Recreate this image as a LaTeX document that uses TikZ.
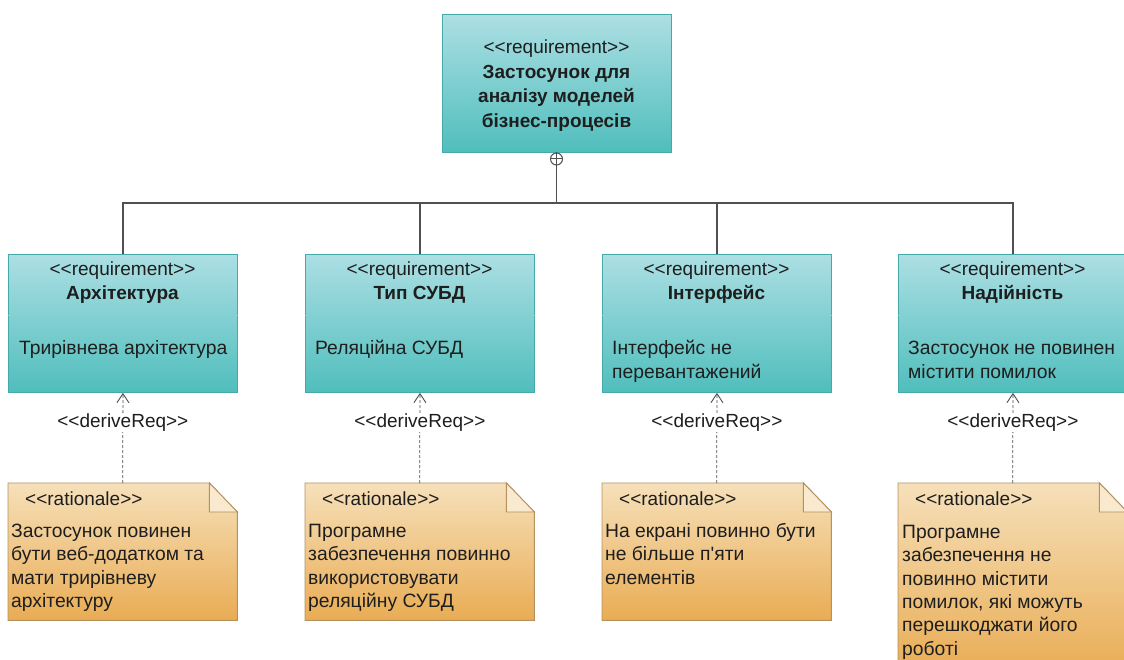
\documentclass[tikz,border=0pt]{standalone}
\usepackage{fontspec}
\setmainfont{Liberation Sans}[Ligatures=TeXOff]
\usetikzlibrary{arrows.meta}
\definecolor{reqtop}{RGB}{172,223,228}
\definecolor{reqbot}{RGB}{80,190,188}
\definecolor{reqline}{RGB}{70,170,172}
\definecolor{notetop}{RGB}{246,224,186}
\definecolor{notebot}{RGB}{233,172,84}
\definecolor{noteline}{RGB}{180,145,95}
\definecolor{txt}{RGB}{30,30,30}
\definecolor{wire}{RGB}{80,80,80}
\begin{document}
\begin{tikzpicture}[x=1pt,y=-1pt,
  reqbox/.style={draw=reqline, line width=0.9pt, top color=reqtop, bottom color=reqbot,
    minimum width=229pt, minimum height=138pt, anchor=north west, inner sep=0pt},
  noteanchor/.style={minimum width=229pt, minimum height=#1, anchor=north west, inner sep=0pt},
  notefill/.style={draw=noteline, line width=0.9pt, top color=notetop, bottom color=notebot},
  divider/.style={draw=reqline!60!white, line width=0.9pt},
  tree/.style={draw=wire, line width=1.3pt},
  derive/.style={draw=wire, line width=0.8pt, dash pattern=on 3pt off 2pt,
    -{Straight Barb[length=9pt,width=12pt,line width=0.9pt]}},
  lbl/.style={fill=white, inner sep=1pt, text=txt, font=\fontsize{19}{22}\selectfont},
  ctext/.style={text=txt, inner sep=0pt, align=center, anchor=north,
    font=\fontsize{19}{24}\selectfont},
  ltext/.style={text=txt, inner sep=0pt, align=left, anchor=north west,
    font=\fontsize{19.3}{24}\selectfont},
  ntext/.style={text=txt, inner sep=0pt, align=left, anchor=north west,
    font=\fontsize{19.3}{23.3}\selectfont}
]
\useasboundingbox (0,0) rectangle (1124,660);
\fill[white] (0,0) rectangle (1124,660);

% top requirement
\node[reqbox] (top) at (442,14) {};
\node[ctext, font=\fontsize{19}{24.5}\selectfont] (toptext) at (556.5,36.3)
  {\strut<<requirement>>\\ \textbf{Застосунок для}\\ \textbf{аналізу моделей}\\ \textbf{бізнес-процесів}};
\node[draw=wire, circle, minimum size=12pt, inner sep=0pt, line width=1pt, fill=white] (cp) at (556.5,159) {};
\draw[wire, line width=1pt] (cp.north) -- (cp.south) (cp.west) -- (cp.east);
\coordinate (bus) at (556.5,203);

% child requirements
\node[reqbox] (r1) at (8,254) {};
\node[reqbox] (r2) at (305,254) {};
\node[reqbox] (r3) at (602,254) {};
\node[reqbox] (r4) at (898,254) {};
\foreach \r in {r1,r2,r3,r4}{
  \draw[divider] ([yshift=-61pt]\r.north west) -- ([yshift=-61pt]\r.north east);
}

\node[ctext] (h1) at (122.5,258.7) {\strut<<requirement>>\\ \textbf{Архітектура}};
\node[ctext] (h2) at (419.5,258.7) {\strut<<requirement>>\\ \textbf{Тип СУБД}};
\node[ctext] (h3) at (716.5,258.7) {\strut<<requirement>>\\ \textbf{Інтерфейс}};
\node[ctext] (h4) at (1012.5,258.7) {\strut<<requirement>>\\ \textbf{Надійність}};

\node[ltext] (b1) at (19,337.7) {\strut Трирівнева архітектура};
\node[ltext] (b2) at (315,337.7) {\strut Реляційна СУБД};
\node[ltext] (b3) at (612,337.7) {\strut Інтерфейс не\\ перевантажений};
\node[ltext] (b4) at (908,337.7) {\strut Застосунок не повинен\\ містити помилок};

% tree connectors
\draw[tree] (cp.south) -- (bus);
\foreach \r in {r1,r2,r3,r4}{
  \draw[tree] (\r.north) |- (bus);
}

% rationale notes
\node[noteanchor=137pt] (n1) at (8,483) {};
\node[noteanchor=137pt] (n2) at (305,483) {};
\node[noteanchor=137pt] (n3) at (602,483) {};
\node[noteanchor=190pt] (n4) at (898,483) {};
\foreach \n in {n1,n2,n3,n4}{
  \path[notefill] (\n.north west) -- ([xshift=-28pt]\n.north east) -- ([yshift=-29pt]\n.north east)
     -- (\n.south east) -- (\n.south west) -- cycle;
  \draw[draw=noteline, line width=0.9pt, fill=notetop!70!white] ([xshift=-28pt]\n.north east)
     -- ([xshift=-28pt,yshift=-29pt]\n.north east) -- ([yshift=-29pt]\n.north east) -- cycle;
}

\node[ntext, font=\fontsize{19}{23}\selectfont] (s1) at (25,489) {\strut<<rationale>>};
\node[ntext, font=\fontsize{19}{23}\selectfont] (s2) at (322,489) {\strut<<rationale>>};
\node[ntext, font=\fontsize{19}{23}\selectfont] (s3) at (619,489) {\strut<<rationale>>};
\node[ntext, font=\fontsize{19}{23}\selectfont] (s4) at (915,489) {\strut<<rationale>>};

\node[ntext] (t1) at (11,521) {\strut Застосунок повинен\\ бути веб-додатком та\\ мати трирівневу\\ архітектуру};
\node[ntext] (t2) at (308,521) {\strut Програмне\\ забезпечення повинно\\ використовувати\\ реляційну СУБД};
\node[ntext] (t3) at (605,521) {\strut На екрані повинно бути\\ не більше п'яти\\ елементів};
\node[ntext] (t4) at (902,522) {\strut Програмне\\ забезпечення не\\ повинно містити\\ помилок, які можуть\\ перешкоджати його\\ роботі};

% deriveReq dependencies
\draw[derive] (n1.north) -- node[lbl, pos=0.67] {<<deriveReq>>} (r1.south);
\draw[derive] (n2.north) -- node[lbl, pos=0.67] {<<deriveReq>>} (r2.south);
\draw[derive] (n3.north) -- node[lbl, pos=0.67] {<<deriveReq>>} (r3.south);
\draw[derive] (n4.north) -- node[lbl, pos=0.67] {<<deriveReq>>} (r4.south);
\end{tikzpicture}
\end{document}
